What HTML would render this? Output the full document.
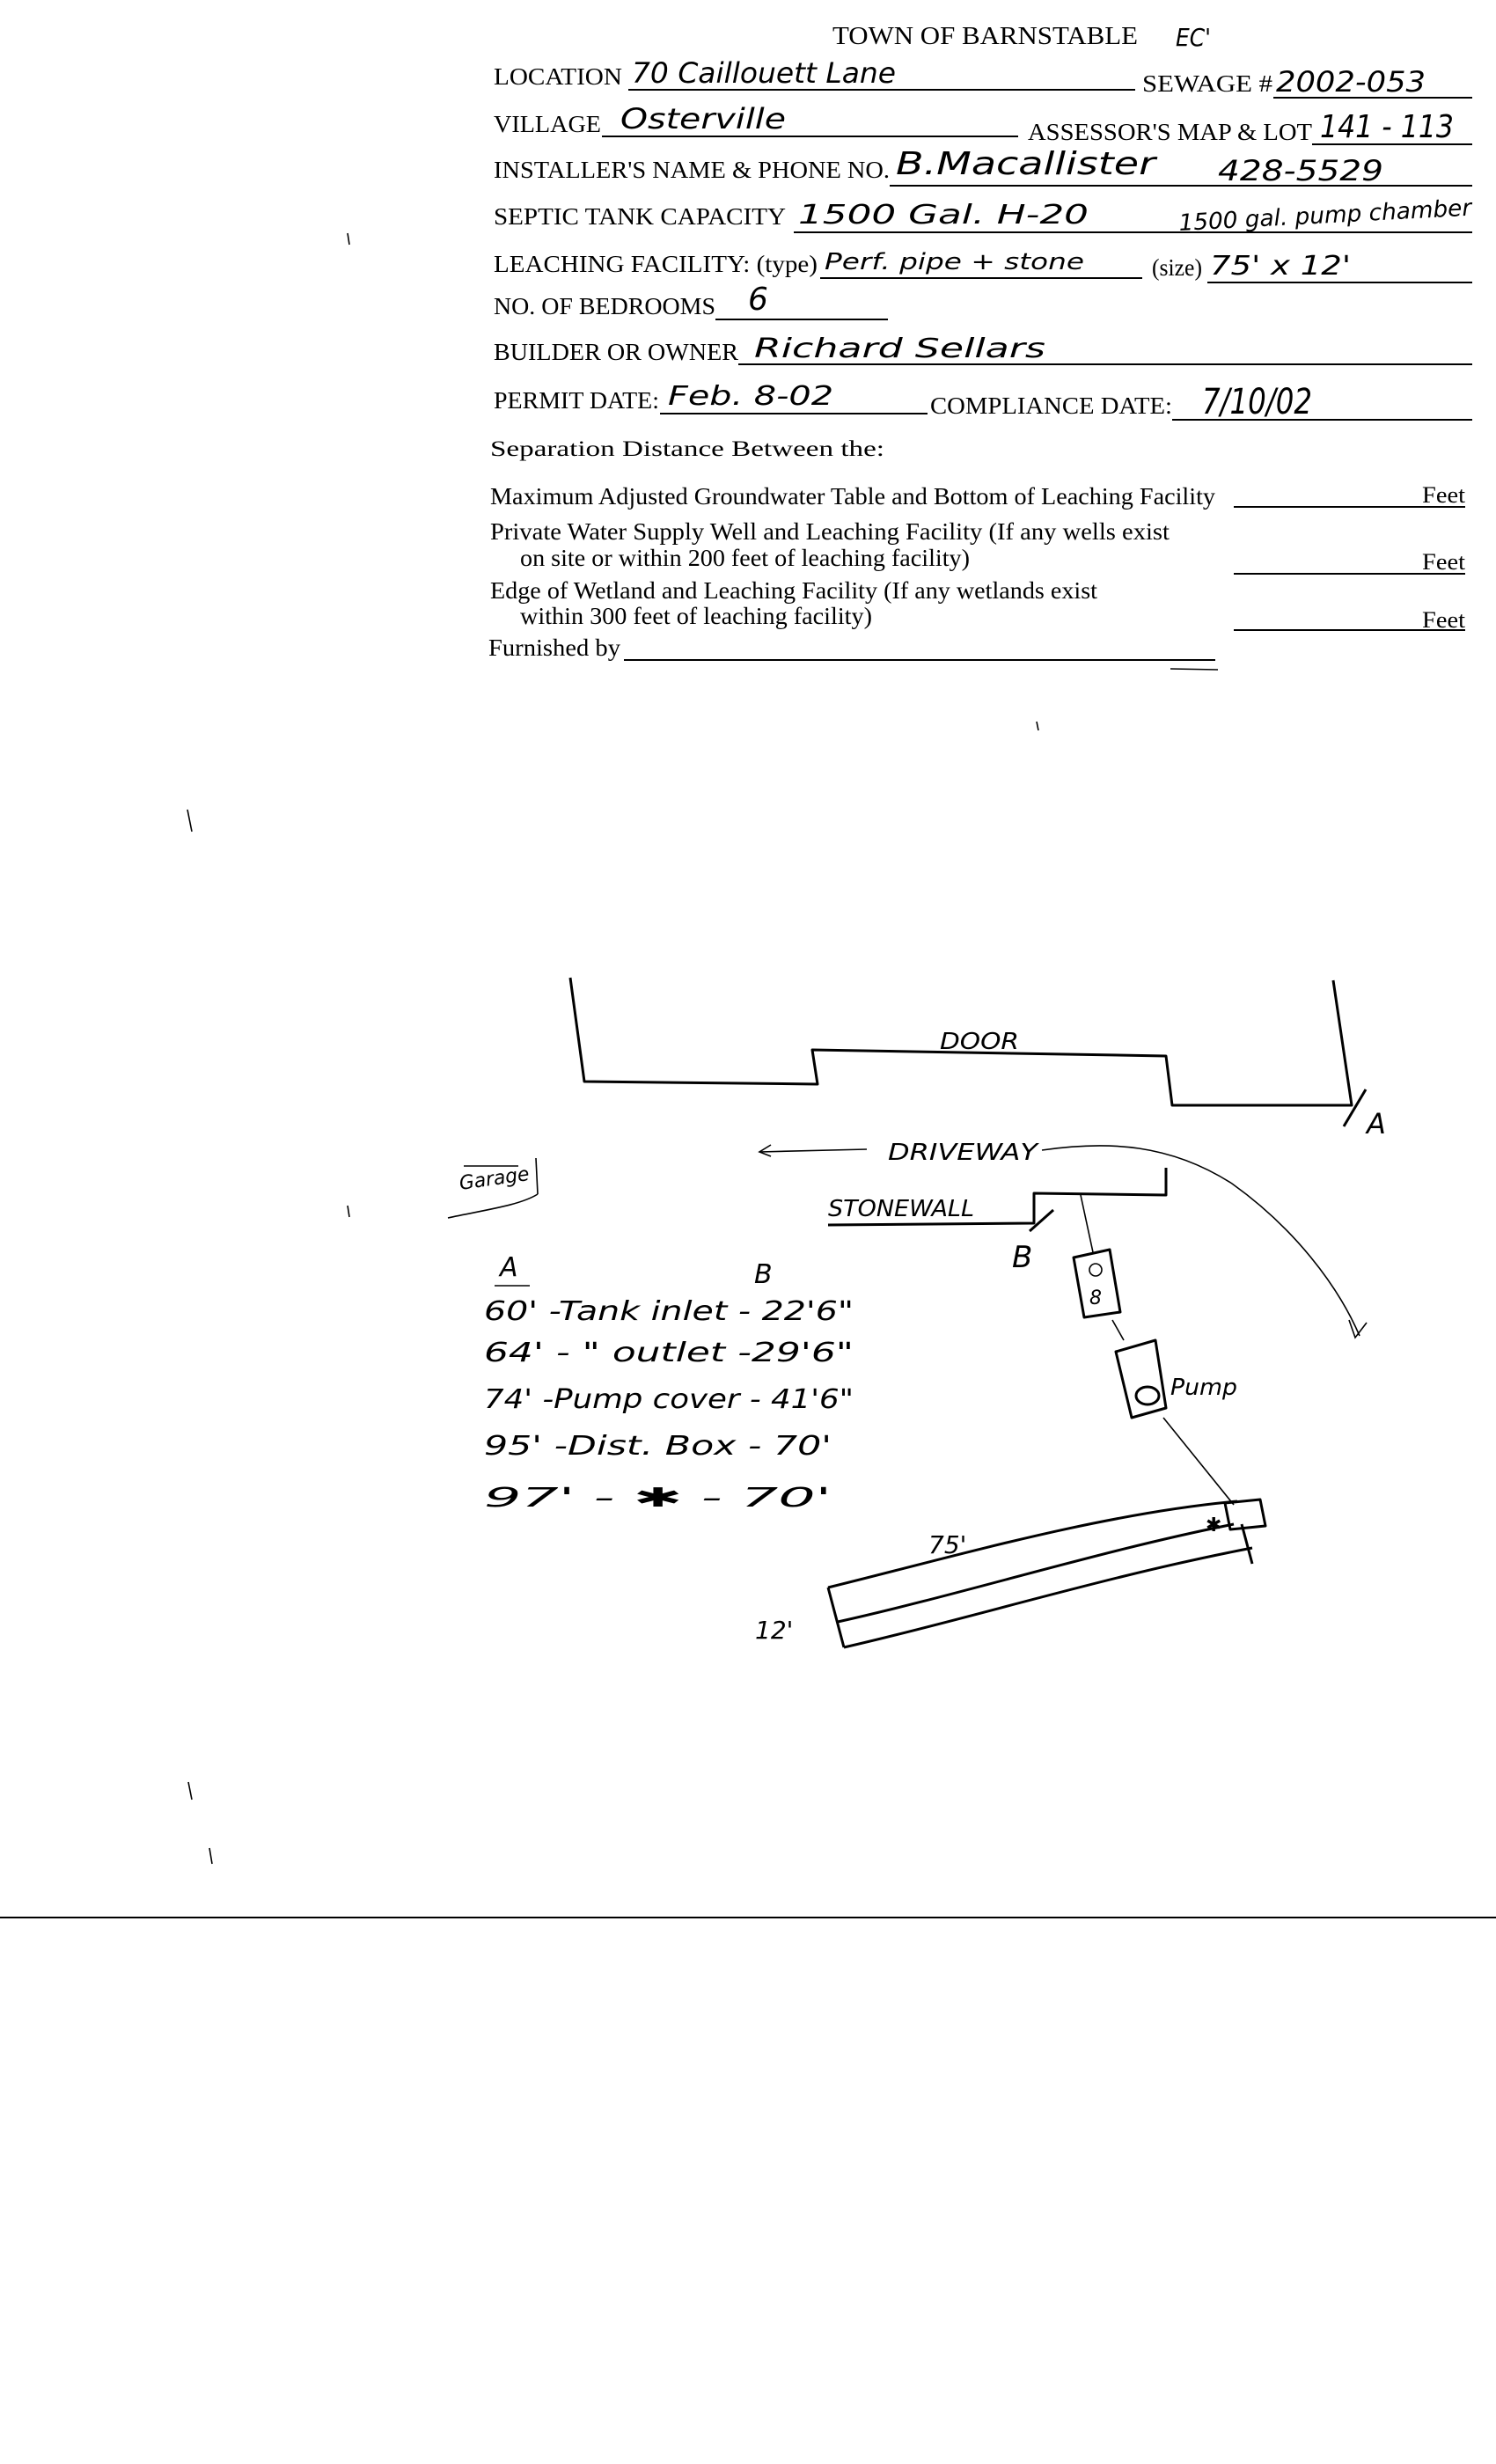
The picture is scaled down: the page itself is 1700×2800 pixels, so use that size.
<!DOCTYPE html>
<html><head><meta charset="utf-8"><style>
html,body{margin:0;padding:0;background:#fff;}
svg{display:block;}
.p{font-family:"Liberation Serif",serif;fill:#000;}
.h{font-family:"DejaVu Sans","Liberation Sans",sans-serif;fill:#000;font-style:italic;}
.l{stroke:#000;stroke-width:2;fill:none;}
.t{stroke:#000;stroke-width:3;fill:none;stroke-linejoin:round;}
.th{stroke:#000;stroke-width:1.6;fill:none;}
</style></head><body>
<svg width="1700" height="2800" viewBox="0 0 1700 2800" xmlns="http://www.w3.org/2000/svg">
<rect width="1700" height="2800" fill="#fff"/>
<!-- header -->
<text class="p" x="946" y="50" font-size="28" textLength="347" lengthAdjust="spacingAndGlyphs">TOWN OF BARNSTABLE</text>
<text class="h" x="1336" y="52" font-size="28" textLength="40" lengthAdjust="spacingAndGlyphs">EC'</text>

<!-- row1 -->
<text class="p" x="561" y="96" font-size="27" textLength="146" lengthAdjust="spacingAndGlyphs">LOCATION</text>
<line class="l" x1="714" y1="102" x2="1290" y2="102"/>
<text class="h" x="718" y="94" font-size="32" textLength="300" lengthAdjust="spacingAndGlyphs">70 Caillouett Lane</text>
<text class="p" x="1298" y="104" font-size="27" textLength="148" lengthAdjust="spacingAndGlyphs">SEWAGE #</text>
<line class="l" x1="1447" y1="111" x2="1673" y2="111"/>
<text class="h" x="1450" y="104" font-size="32" textLength="170" lengthAdjust="spacingAndGlyphs">2002-053</text>

<!-- row2 -->
<text class="p" x="561" y="150" font-size="27" textLength="122" lengthAdjust="spacingAndGlyphs">VILLAGE</text>
<line class="l" x1="684" y1="155" x2="1157" y2="155"/>
<text class="h" x="705" y="146" font-size="32" textLength="188" lengthAdjust="spacingAndGlyphs">Osterville</text>
<text class="p" x="1168" y="159" font-size="27" textLength="323" lengthAdjust="spacingAndGlyphs">ASSESSOR'S MAP &amp; LOT</text>
<line class="l" x1="1491" y1="164" x2="1673" y2="164"/>
<text class="h" x="1500" y="156" font-size="36" textLength="152" lengthAdjust="spacingAndGlyphs">141 - 113</text>

<!-- row3 -->
<text class="p" x="561" y="202" font-size="27" textLength="450" lengthAdjust="spacingAndGlyphs">INSTALLER'S NAME &amp; PHONE NO.</text>
<line class="l" x1="1011" y1="211" x2="1673" y2="211"/>
<text class="h" x="1018" y="198" font-size="36" textLength="295" lengthAdjust="spacingAndGlyphs">B.Macallister</text>
<text class="h" x="1384" y="205" font-size="32" textLength="188" lengthAdjust="spacingAndGlyphs">428-5529</text>

<!-- row4 -->
<text class="p" x="561" y="255" font-size="27" textLength="332" lengthAdjust="spacingAndGlyphs">SEPTIC TANK CAPACITY</text>
<line class="l" x1="902" y1="264" x2="1673" y2="264"/>
<text class="h" x="907" y="254" font-size="30" textLength="330" lengthAdjust="spacingAndGlyphs">1500 Gal. H-20</text>
<text class="h" x="1340" y="262" font-size="26" textLength="333" lengthAdjust="spacingAndGlyphs" transform="rotate(-3 1340 262)">1500 gal. pump chamber</text>

<!-- row5 -->
<text class="p" x="561" y="309" font-size="27" textLength="368" lengthAdjust="spacingAndGlyphs">LEACHING FACILITY: (type)</text>
<line class="l" x1="932" y1="316" x2="1298" y2="316"/>
<text class="h" x="937" y="306" font-size="26" textLength="295" lengthAdjust="spacingAndGlyphs">Perf. pipe + stone</text>
<text class="p" x="1309" y="313" font-size="27" textLength="57" lengthAdjust="spacingAndGlyphs">(size)</text>
<line class="l" x1="1372" y1="321" x2="1673" y2="321"/>
<text class="h" x="1375" y="312" font-size="30" textLength="160" lengthAdjust="spacingAndGlyphs">75' x 12'</text>

<!-- row6 -->
<text class="p" x="561" y="357" font-size="27" textLength="252" lengthAdjust="spacingAndGlyphs">NO. OF BEDROOMS</text>
<line class="l" x1="813" y1="363" x2="1009" y2="363"/>
<text class="h" x="850" y="352" font-size="36">6</text>

<!-- row7 -->
<text class="p" x="561" y="409" font-size="27" textLength="278" lengthAdjust="spacingAndGlyphs">BUILDER OR OWNER</text>
<line class="l" x1="839" y1="414" x2="1673" y2="414"/>
<text class="h" x="857" y="406" font-size="30" textLength="331" lengthAdjust="spacingAndGlyphs">Richard Sellars</text>

<!-- row8 -->
<text class="p" x="561" y="464" font-size="27" textLength="188" lengthAdjust="spacingAndGlyphs">PERMIT DATE:</text>
<line class="l" x1="750" y1="470" x2="1054" y2="470"/>
<text class="h" x="759" y="460" font-size="30" textLength="188" lengthAdjust="spacingAndGlyphs">Feb. 8-02</text>
<text class="p" x="1057" y="470" font-size="27" textLength="275" lengthAdjust="spacingAndGlyphs">COMPLIANCE DATE:</text>
<line class="l" x1="1332" y1="477" x2="1673" y2="477"/>
<text class="h" x="1366" y="470" font-size="40" textLength="125" lengthAdjust="spacingAndGlyphs">7/10/02</text>

<!-- separation -->
<text class="p" x="557" y="518" font-size="25" textLength="448" lengthAdjust="spacingAndGlyphs">Separation Distance Between the:</text>
<text class="p" x="557" y="573" font-size="27" textLength="824" lengthAdjust="spacingAndGlyphs">Maximum Adjusted Groundwater Table and Bottom of Leaching Facility</text>
<line class="l" x1="1402" y1="576" x2="1665" y2="576"/>
<text class="p" x="1616" y="571" font-size="26" textLength="49" lengthAdjust="spacingAndGlyphs">Feet</text>
<text class="p" x="557" y="613" font-size="27" textLength="772" lengthAdjust="spacingAndGlyphs">Private Water Supply Well and Leaching Facility  (If any wells exist</text>
<text class="p" x="591" y="643" font-size="27" textLength="511" lengthAdjust="spacingAndGlyphs">on site or within 200 feet of leaching facility)</text>
<line class="l" x1="1402" y1="652" x2="1665" y2="652"/>
<text class="p" x="1616" y="647" font-size="26" textLength="49" lengthAdjust="spacingAndGlyphs">Feet</text>
<text class="p" x="557" y="680" font-size="27" textLength="690" lengthAdjust="spacingAndGlyphs">Edge of Wetland and Leaching Facility (If any wetlands exist</text>
<text class="p" x="591" y="709" font-size="27" textLength="400" lengthAdjust="spacingAndGlyphs">within 300 feet of leaching facility)</text>
<line class="l" x1="1402" y1="716" x2="1665" y2="716"/>
<text class="p" x="1616" y="713" font-size="26" textLength="49" lengthAdjust="spacingAndGlyphs">Feet</text>
<text class="p" x="555" y="745" font-size="27" textLength="150" lengthAdjust="spacingAndGlyphs">Furnished by</text>
<line class="l" x1="709" y1="750" x2="1381" y2="750"/>
<line class="th" x1="1330" y1="760" x2="1384" y2="761"/>

<!-- stray marks -->
<line class="th" x1="213" y1="920" x2="218" y2="945"/>
<line class="th" x1="395" y1="265" x2="397" y2="278"/>
<line class="th" x1="395" y1="1370" x2="397" y2="1383"/>
<line class="th" x1="214" y1="2025" x2="218" y2="2045"/>
<line class="th" x1="238" y1="2100" x2="241" y2="2118"/>
<line class="th" x1="1178" y1="820" x2="1180" y2="830"/>

<!-- house -->
<polyline class="t" points="648,1111 664,1229 929,1232 923,1193 1325,1200 1332,1256 1536,1256 1515,1114"/>
<line class="t" x1="1527" y1="1280" x2="1552" y2="1238"/>
<text class="h" x="1553" y="1288" font-size="32" font-style="normal">A</text>
<text class="h" x="1068" y="1192" font-size="26" textLength="90" lengthAdjust="spacingAndGlyphs" font-style="normal">DOOR</text>

<!-- driveway -->
<line class="th" x1="863" y1="1309" x2="985" y2="1306"/>
<polyline class="th" points="876,1301 863,1309 876,1314"/>
<text class="h" x="1009" y="1318" font-size="26" textLength="170" lengthAdjust="spacingAndGlyphs" font-style="normal">DRIVEWAY</text>
<path class="th" d="M1184,1307 C1260,1296 1330,1300 1400,1345 C1470,1395 1520,1460 1545,1518"/>
<polyline class="th" points="1533,1500 1540,1520 1553,1503"/>

<!-- stonewall -->
<polyline class="t" points="941,1392 1175,1390 1175,1356 1325,1358 1325,1327"/>
<text class="h" x="941" y="1382" font-size="26" textLength="166" lengthAdjust="spacingAndGlyphs" font-style="normal">STONEWALL</text>
<line class="t" x1="1170" y1="1399" x2="1197" y2="1375"/>
<text class="h" x="1150" y="1440" font-size="34" font-style="normal">B</text>
<line class="th" x1="1228" y1="1358" x2="1242" y2="1423"/>

<!-- tank -->
<polygon class="t" points="1220,1429 1261,1420 1273,1491 1232,1497"/>
<circle class="th" cx="1245" cy="1443" r="7"/>
<text class="h" x="1238" y="1482" font-size="22" font-style="normal">8</text>
<line class="th" x1="1264" y1="1500" x2="1277" y2="1523"/>

<!-- pump -->
<polygon class="t" points="1268,1536 1313,1523 1325,1600 1286,1611"/>
<ellipse class="t" cx="1304" cy="1586" rx="13" ry="10"/>
<text class="h" x="1330" y="1585" font-size="26" textLength="76" lengthAdjust="spacingAndGlyphs" font-style="normal">Pump</text>
<line class="th" x1="1322" y1="1611" x2="1402" y2="1710"/>

<!-- dbox -->
<polygon class="t" points="1392,1708 1432,1704 1438,1734 1398,1738"/>
<text class="h" x="1370" y="1740" font-size="22" font-style="normal">✱</text>

<!-- leach field -->
<path class="t" d="M941,1804 C1080,1770 1250,1720 1406,1706"/>
<path class="t" d="M952,1843 C1100,1810 1250,1762 1402,1732"/>
<path class="t" d="M959,1872 C1100,1840 1260,1790 1423,1759"/>
<line class="t" x1="1411" y1="1732" x2="1423" y2="1777"/>
<line class="t" x1="941" y1="1804" x2="959" y2="1872"/>
<text class="h" x="1055" y="1765" font-size="28" font-style="normal">75'</text>
<text class="h" x="858" y="1862" font-size="28" font-style="normal">12'</text>

<!-- garage -->
<text class="h" x="523" y="1352" font-size="22" textLength="80" lengthAdjust="spacingAndGlyphs" transform="rotate(-8 523 1352)">Garage</text>
<line class="th" x1="527" y1="1325" x2="589" y2="1325"/>
<line class="th" x1="609" y1="1316" x2="611" y2="1357"/>
<path class="th" d="M509,1384 C550,1375 590,1370 611,1357"/>

<!-- table -->
<text class="h" x="568" y="1450" font-size="30" font-style="normal">A</text>
<line class="th" x1="562" y1="1461" x2="602" y2="1461"/>
<text class="h" x="857" y="1458" font-size="30" font-style="normal">B</text>
<text class="h" x="550" y="1500" font-size="30" textLength="420" lengthAdjust="spacingAndGlyphs">60' -Tank inlet - 22'6"</text>
<text class="h" x="550" y="1547" font-size="30" textLength="420" lengthAdjust="spacingAndGlyphs">64' -  "    outlet -29'6"</text>
<text class="h" x="550" y="1600" font-size="30" textLength="420" lengthAdjust="spacingAndGlyphs">74' -Pump cover - 41'6"</text>
<text class="h" x="550" y="1653" font-size="30" textLength="395" lengthAdjust="spacingAndGlyphs">95' -Dist. Box  - 70'</text>
<text class="h" x="550" y="1712" font-size="30" textLength="395" lengthAdjust="spacingAndGlyphs">97' -    ✱       - 70'</text>

<!-- bottom rule -->
<line x1="0" y1="2179" x2="1700" y2="2179" stroke="#000" stroke-width="2"/>
</svg>
</body></html>
